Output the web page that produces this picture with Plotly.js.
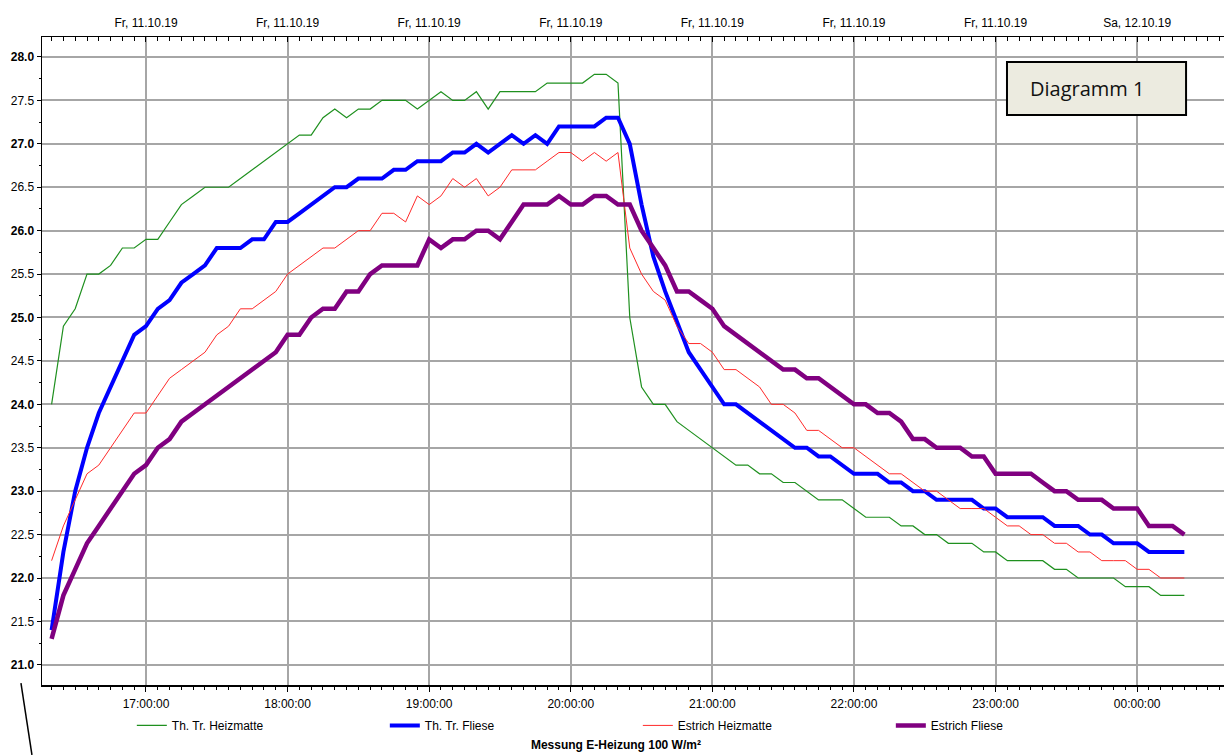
<!DOCTYPE html>
<html>
<head>
<meta charset="utf-8">
<script src="https://cdn.plot.ly/plotly-3.0.1.min.js"></script>
<style>
  html, body { margin: 0; padding: 0; background: #ffffff; }
  #chart { width: 1226px; height: 755px; }
</style>
</head>
<body>
<div id="chart"></div>
<script>
// Sample times (5-minute readings), 11.10.19 16:20 to 12.10.19 00:20
const times = [
  "16:20","16:25","16:30","16:35","16:40","16:45","16:50","16:55",
  "17:00","17:05","17:10","17:15","17:20","17:25","17:30","17:35","17:40","17:45","17:50","17:55",
  "18:00","18:05","18:10","18:15","18:20","18:25","18:30","18:35","18:40","18:45","18:50","18:55",
  "19:00","19:05","19:10","19:15","19:20","19:25","19:30","19:35","19:40","19:45","19:50","19:55",
  "20:00","20:05","20:10","20:15","20:20","20:25","20:30","20:35","20:40","20:45","20:50","20:55",
  "21:00","21:05","21:10","21:15","21:20","21:25","21:30","21:35","21:40","21:45","21:50","21:55",
  "22:00","22:05","22:10","22:15","22:20","22:25","22:30","22:35","22:40","22:45","22:50","22:55",
  "23:00","23:05","23:10","23:15","23:20","23:25","23:30","23:35","23:40","23:45","23:50","23:55",
  "00:00","00:05","00:10","00:15","00:20"
];

// Th. Tr. Heizmatte
const thTrHeizmatte = [
  24.0,24.9,25.1,25.5,25.5,25.6,25.8,25.8,25.9,25.9,
  26.1,26.3,26.4,26.5,26.5,26.5,26.6,26.7,26.8,26.9,
  27.0,27.1,27.1,27.3,27.4,27.3,27.4,27.4,27.5,27.5,
  27.5,27.4,27.5,27.6,27.5,27.5,27.6,27.4,27.6,27.6,
  27.6,27.6,27.7,27.7,27.7,27.7,27.8,27.8,27.7,25.0,
  24.2,24.0,24.0,23.8,23.7,23.6,23.5,23.4,23.3,23.3,
  23.2,23.2,23.1,23.1,23.0,22.9,22.9,22.9,22.8,22.7,
  22.7,22.7,22.6,22.6,22.5,22.5,22.4,22.4,22.4,22.3,
  22.3,22.2,22.2,22.2,22.2,22.1,22.1,22.0,22.0,22.0,
  22.0,21.9,21.9,21.9,21.8,21.8,21.8
];

// Th. Tr. Fliese
const thTrFliese = [
  21.4,22.3,23.0,23.5,23.9,24.2,24.5,24.8,24.9,25.1,
  25.2,25.4,25.5,25.6,25.8,25.8,25.8,25.9,25.9,26.1,
  26.1,26.2,26.3,26.4,26.5,26.5,26.6,26.6,26.6,26.7,
  26.7,26.8,26.8,26.8,26.9,26.9,27.0,26.9,27.0,27.1,
  27.0,27.1,27.0,27.2,27.2,27.2,27.2,27.3,27.3,27.0,
  26.3,25.7,25.3,24.95,24.6,24.4,24.2,24.0,24.0,23.9,
  23.8,23.7,23.6,23.5,23.5,23.4,23.4,23.3,23.2,23.2,
  23.2,23.1,23.1,23.0,23.0,22.9,22.9,22.9,22.9,22.8,
  22.8,22.7,22.7,22.7,22.7,22.6,22.6,22.6,22.5,22.5,
  22.4,22.4,22.4,22.3,22.3,22.3,22.3
];

// Estrich Heizmatte
const estrichHeizmatte = [
  22.2,22.6,22.9,23.2,23.3,23.5,23.7,23.9,23.9,24.1,
  24.3,24.4,24.5,24.6,24.8,24.9,25.1,25.1,25.2,25.3,
  25.5,25.6,25.7,25.8,25.8,25.9,26.0,26.0,26.2,26.2,
  26.1,26.4,26.3,26.4,26.6,26.5,26.6,26.4,26.5,26.7,
  26.7,26.7,26.8,26.9,26.9,26.8,26.9,26.8,26.9,25.8,
  25.5,25.3,25.2,24.9,24.7,24.7,24.6,24.4,24.4,24.3,
  24.2,24.0,24.0,23.9,23.7,23.7,23.6,23.5,23.5,23.4,
  23.3,23.2,23.2,23.1,23.0,23.0,22.9,22.8,22.8,22.8,
  22.7,22.6,22.6,22.5,22.5,22.4,22.4,22.3,22.3,22.2,
  22.2,22.2,22.1,22.1,22.0,22.0,22.0
];

// Estrich Fliese
const estrichFliese = [
  21.3,21.8,22.1,22.4,22.6,22.8,23.0,23.2,23.3,23.5,
  23.6,23.8,23.9,24.0,24.1,24.2,24.3,24.4,24.5,24.6,
  24.8,24.8,25.0,25.1,25.1,25.3,25.3,25.5,25.6,25.6,
  25.6,25.6,25.9,25.8,25.9,25.9,26.0,26.0,25.9,26.1,
  26.3,26.3,26.3,26.4,26.3,26.3,26.4,26.4,26.3,26.3,
  26.0,25.8,25.6,25.3,25.3,25.2,25.1,24.9,24.8,24.7,
  24.6,24.5,24.4,24.4,24.3,24.3,24.2,24.1,24.0,24.0,
  23.9,23.9,23.8,23.6,23.6,23.5,23.5,23.5,23.4,23.4,
  23.2,23.2,23.2,23.2,23.1,23.0,23.0,22.9,22.9,22.9,
  22.8,22.8,22.8,22.6,22.6,22.6,22.5
];

const seriesNames = ["Th. Tr. Heizmatte", "Th. Tr. Fliese", "Estrich Heizmatte", "Estrich Fliese"];

// Axis tick labels
const hourTicks = ["17:00","18:00","19:00","20:00","21:00","22:00","23:00","00:00"];
const topTickLabels = ["Fr, 11.10.19","Fr, 11.10.19","Fr, 11.10.19","Fr, 11.10.19","Fr, 11.10.19","Fr, 11.10.19","Fr, 11.10.19","Sa, 12.10.19"];
const yTickVals = [21.0,21.5,22.0,22.5,23.0,23.5,24.0,24.5,25.0,25.5,26.0,26.5,27.0,27.5,28.0];
const yTickText = ["<b>21.0</b>","21.5","<b>22.0</b>","22.5","<b>23.0</b>","23.5","<b>24.0</b>","24.5","<b>25.0</b>","25.5","<b>26.0</b>","26.5","<b>27.0</b>","27.5","<b>28.0</b>"];

function toDate(hm) {
  const h = parseInt(hm.slice(0, 2), 10);
  const day = h < 12 ? "2019-10-12" : "2019-10-11";
  return day + " " + hm + ":00";
}
const x = times.map(toDate);
const hourDates = hourTicks.map(toDate);

const FONT = "Liberation Sans, Arial, sans-serif";
const styles = [
  {color: "#1f901f", width: 1.2},
  {color: "#0000ff", width: 4},
  {color: "#ff2a2a", width: 1},
  {color: "#800080", width: 4.5}
];
const values = [thTrHeizmatte, thTrFliese, estrichHeizmatte, estrichFliese];

const traces = values.map((v, i) => ({
  type: "scatter",
  mode: "lines",
  x: x,
  y: v,
  name: seriesNames[i],
  line: {color: styles[i].color, width: styles[i].width, shape: "linear"},
  xaxis: "x",
  yaxis: "y"
}));

// invisible companion trace so that the top date axis is drawn
traces.push({
  type: "scatter", mode: "lines",
  x: x, y: thTrHeizmatte,
  xaxis: "x2", yaxis: "y",
  line: {color: "rgba(0,0,0,0)", width: 0},
  showlegend: false, hoverinfo: "skip"
});

const xRange = ["2019-10-11 16:15:56", "2019-10-12 00:36:48"];

const layout = {
  width: 1226,
  height: 755,
  margin: {l: 42, r: 2, t: 37, b: 70},
  paper_bgcolor: "#ffffff",
  plot_bgcolor: "#ffffff",
  font: {family: FONT, size: 12, color: "#000000"},
  showlegend: true,
  legend: {
    orientation: "h",
    x: 0.076, xanchor: "left",
    y: -0.040, yanchor: "top",
    entrywidth: 208, entrywidthmode: "pixels",
    font: {family: FONT, size: 12, color: "#000000"},
    bgcolor: "rgba(0,0,0,0)",
    traceorder: "normal"
  },
  title: {
    text: "<b>Messung E-Heizung 100 W/m²</b>",
    font: {family: FONT, size: 12, color: "#000000"},
    x: 0.5024, xanchor: "center", xref: "container",
    y: 0.013, yanchor: "middle", yref: "container"
  },
  xaxis: {
    type: "date",
    range: xRange,
    tickvals: hourDates,
    tickformat: "%H:%M:%S",
    ticks: "outside", ticklen: 5, tickcolor: "#000000", tickwidth: 1,
    minor: {dtick: 300000, tick0: "2019-10-11 17:00:00", ticks: "outside", ticklen: 3, tickcolor: "#000000", showgrid: false},
    showgrid: true, gridcolor: "#a6a6a6", gridwidth: 2,
    showline: true, linecolor: "#000000", linewidth: 1.5,
    tickfont: {family: FONT, size: 12, color: "#000000"},
    ticklabelstandoff: 2,
    zeroline: false,
    fixedrange: true
  },
  xaxis2: {
    type: "date",
    range: xRange,
    overlaying: "x",
    side: "top",
    anchor: "y",
    tickvals: hourDates,
    ticktext: topTickLabels,
    ticks: "inside", ticklen: 5, tickcolor: "#000000",
    minor: {dtick: 300000, tick0: "2019-10-11 17:00:00", ticks: "inside", ticklen: 4, tickcolor: "#000000", showgrid: false},
    showgrid: false,
    showline: true, linecolor: "#000000", linewidth: 1.5,
    tickfont: {family: FONT, size: 12, color: "#000000"},
    ticklabelstandoff: 4,
    zeroline: false,
    fixedrange: true
  },
  yaxis: {
    range: [20.768, 28.23],
    tickvals: yTickVals,
    ticktext: yTickText,
    ticks: "outside", ticklen: 4, tickcolor: "#000000",
    minor: {dtick: 0.25, tick0: 21, ticks: "outside", ticklen: 2, tickcolor: "#000000", showgrid: false},
    showgrid: true, gridcolor: "#a6a6a6", gridwidth: 2,
    showline: true, linecolor: "#000000", linewidth: 1.5,
    tickfont: {family: FONT, size: 12, color: "#000000"},
    zeroline: false,
    fixedrange: true
  },
  shapes: [
    {type: "rect", xref: "paper", yref: "paper", x0: 0.8164, x1: 0.9679, y0: 0.8796, y1: 0.9614,
     fillcolor: "#ecebe0", line: {color: "#000000", width: 2}, layer: "above"},
    {type: "line", xref: "paper", yref: "paper", x0: -0.0178, y0: 0.003, x1: -0.0085, y1: -0.108,
     line: {color: "#000000", width: 1.5}}
  ],
  annotations: [
    {xref: "paper", yref: "paper", x: 0.8342, y: 0.9205, xanchor: "left", yanchor: "middle",
     text: "Diagramm 1", showarrow: false,
     font: {family: "Open Sans, Noto Sans, sans-serif", size: 20, color: "#111111"}}
  ]
};

Plotly.newPlot("chart", traces, layout, {staticPlot: true, displayModeBar: false});
</script>
</body>
</html>
